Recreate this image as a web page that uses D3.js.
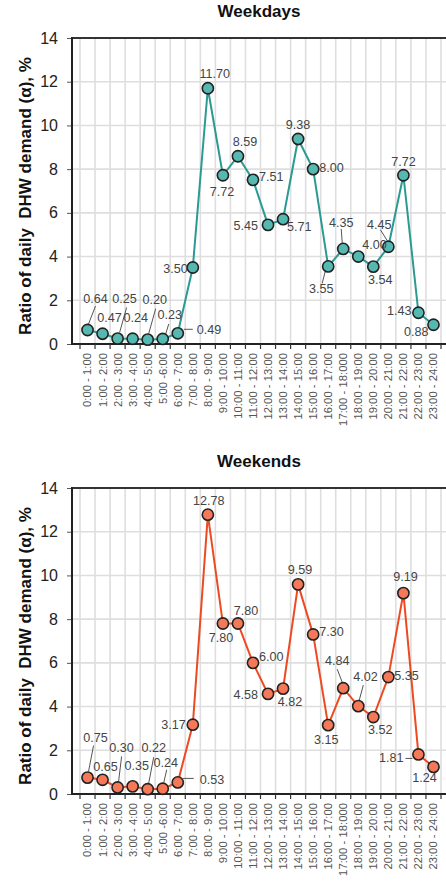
<!DOCTYPE html>
<html lang="en">
<head>
<meta charset="UTF-8">
<title>DHW demand profile</title>
<script src="https://d3js.org/d3.v7.min.js"></script>
<style>
  body { margin: 0; background: #fff; }
  svg { display: block; font-family: "Liberation Sans", Arial, sans-serif; }
  .title { font-size: 17px; font-weight: bold; fill: #111; }
  .ylab { font-size: 17px; font-weight: bold; fill: #111; }
  .grid line { stroke: #dedede; stroke-width: 1.6px; }
  .yaxis text { font-size: 16px; fill: #222; }
  .yaxis path { display: none; }
  .yaxis line { stroke: #555; }
  .xlab text { font-size: 11.3px; fill: #555; }
  .val { font-size: 12.6px; fill: #444; }
  .leader { stroke: #555; stroke-width: 1px; }
</style>
</head>
<body>
<svg width="446" height="885"></svg>
<script>
// data
const hours = ["0:00 - 1:00", "1:00 - 2:00", "2:00 - 3:00", "3:00 - 4:00", "4:00 - 5:00",
  "5:00 -6:00", "6:00 - 7:00", "7:00 - 8:00", "8:00 - 9:00", "9:00 - 10:00", "10:00 - 11:00",
  "11:00 - 12:00", "12:00 - 13:00", "13:00 - 14:00", "14:00 - 15:00", "15:00 - 16:00",
  "16:00 - 17:00", "17:00 - 18:000", "18:00 - 19:00", "19:00 - 20:00", "20:00 - 21:00",
  "21:00 - 22:00", "22:00 - 23:00", "23:00 - 24:00"];
const weekdays = [0.64, 0.47, 0.25, 0.24, 0.20, 0.23, 0.49, 3.50, 11.70, 7.72, 8.59, 7.51,
  5.45, 5.71, 9.38, 8.00, 3.55, 4.35, 4.00, 3.54, 4.45, 7.72, 1.43, 0.88];
const weekends = [0.75, 0.65, 0.30, 0.35, 0.22, 0.24, 0.53, 3.17, 12.78, 7.80, 7.80, 6.00,
  4.58, 4.82, 9.59, 7.30, 3.15, 4.84, 4.02, 3.52, 5.35, 9.19, 1.81, 1.24];
const yTicks = [0, 2, 4, 6, 8, 10, 12, 14];
const yTitle = "Ratio of daily  DHW demand (\u03b1), %";

// value label placement: [dx, dy, anchor] relative to the marker
const wdLabelPos = [[8,-27,"m"],[7,-12,"m"],[7,-36,"m"],[3,-17,"m"],[7,-36,"m"],[7,-20,"m"],
  [19,1,"s"],[-5,5,"e"],[7,-10,"m"],[-1,21,"m"],[7,-10,"m"],[6,1,"s"],[-10,5,"e"],[4,12,"s"],
  [0,-10,"m"],[6,3,"s"],[-7,27,"m"],[-2,-22,"m"],[4,-8,"s"],[7,17,"m"],[-9,-18,"m"],
  [0,-9,"m"],[-7,2,"e"],[-5,11,"e"]];
const weLabelPos = [[8,-36,"m"],[3,-9,"m"],[4,-35,"m"],[4,-16,"m"],[6,-37,"m"],[3,-22,"m"],
  [22,2,"s"],[-7,4,"e"],[1,-10,"m"],[-2,18,"m"],[8,-9,"m"],[6,-2,"s"],[-10,5,"e"],[7,17,"m"],
  [2,-10,"m"],[6,2,"s"],[-2,19,"m"],[-6,-23,"m"],[-5,-25,"s"],[7,17,"m"],[6,3,"s"],
  [2,-12,"m"],[-15,8,"e"],[-9,15,"m"]];
// leader lines [index, x1, y1, x2, y2] relative to the marker
const wdLeaders = [[0,1,-6,8,-24],[2,2,-6,9,-31],[4,1,-6,8,-31],[5,3,-5,6,-15],[6,6,-4,15,-4],
  [16,-3,5,-6,17],[17,-1,-6,-2,-20],[20,-1,-6,-8,-17]];
const weLeaders = [[0,1,-6,6,-32],[2,1,-6,4,-31],[4,1,-6,6,-32],[5,1,-6,4,-19],[6,5,-4,16,-4],
  [17,-1,-6,-6,-19],[18,1,-6,5,-21],[22,-6,4,-13,4]];

const svg = d3.select("svg");
const left = 72, right = 446, plotH = 306;
const anchors = { m: "middle", s: "start", e: "end" };

const x = d3.scaleBand().domain(hours).range([80, 441]);

function panel(top, title, values, lineColor, dotColor, labelPos, leaders) {
  const bottom = top + plotH;
  const y = d3.scaleLinear().domain([0, 14]).range([bottom, top]);
  const g = svg.append("g");

  g.append("text").attr("class", "title")
    .attr("x", (left + right) / 2).attr("y", top - 21)
    .attr("text-anchor", "middle").text(title);

  g.append("text").attr("class", "ylab")
    .attr("transform", `translate(31,${(top + bottom) / 2 + 5}) rotate(-90)`)
    .attr("text-anchor", "middle")
    .attr("xml:space", "preserve")
    .text(yTitle);

  // grid
  const grid = g.append("g").attr("class", "grid");
  grid.selectAll(".h").data(yTicks.slice(1, -1)).join("line")
    .attr("x1", left).attr("x2", right)
    .attr("y1", d => y(d)).attr("y2", d => y(d));
  const bounds = hours.map(h => x(h)).concat([x(hours[hours.length - 1]) + x.bandwidth()]);
  grid.selectAll(".v").data(bounds).join("line")
    .attr("x1", d => d).attr("x2", d => d)
    .attr("y1", top).attr("y2", bottom);

  // y axis
  g.append("g").attr("class", "yaxis")
    .attr("transform", `translate(${left},0)`)
    .call(d3.axisLeft(y).tickValues(yTicks).tickSize(5).tickPadding(9));

  // frame lines
  g.append("line").attr("x1", left).attr("x2", right).attr("y1", top).attr("y2", top)
    .attr("stroke", "#333").attr("stroke-width", 2);
  g.append("line").attr("x1", left).attr("x2", left).attr("y1", top - 1).attr("y2", bottom + 1)
    .attr("stroke", "#222").attr("stroke-width", 2);
  g.append("line").attr("x1", left).attr("x2", right).attr("y1", bottom).attr("y2", bottom)
    .attr("stroke", "#222").attr("stroke-width", 2);
  g.selectAll(".xt").data(bounds).join("line")
    .attr("x1", d => d).attr("x2", d => d)
    .attr("y1", bottom).attr("y2", bottom + 5)
    .attr("stroke", "#333").attr("stroke-width", 1.2);

  // x labels
  const xa = g.append("g").attr("class", "xlab")
    .attr("transform", `translate(0,${bottom})`)
    .call(d3.axisBottom(x).tickSize(0).tickPadding(0));
  xa.select(".domain").remove();
  xa.selectAll("text")
    .attr("transform", "translate(0,9) rotate(-90)")
    .attr("x", 0).attr("y", 0).attr("dy", "0.35em")
    .attr("text-anchor", "end");

  const cx = i => x(hours[i]) + x.bandwidth() / 2;

  // series
  g.append("path").datum(values)
    .attr("fill", "none").attr("stroke", lineColor).attr("stroke-width", 2)
    .attr("d", d3.line().x((d, i) => cx(i)).y(d => y(d)));

  g.selectAll(".leader").data(leaders).join("line").attr("class", "leader")
    .attr("x1", d => cx(d[0]) + d[1]).attr("y1", d => y(values[d[0]]) + d[2])
    .attr("x2", d => cx(d[0]) + d[3]).attr("y2", d => y(values[d[0]]) + d[4]);

  g.selectAll(".dot").data(values).join("circle")
    .attr("cx", (d, i) => cx(i)).attr("cy", d => y(d)).attr("r", 5.6)
    .attr("fill", dotColor).attr("stroke", "#222").attr("stroke-width", 1.6);

  g.selectAll(".val").data(values).join("text").attr("class", "val")
    .attr("x", (d, i) => cx(i) + labelPos[i][0])
    .attr("y", (d, i) => y(d) + labelPos[i][1])
    .attr("text-anchor", (d, i) => anchors[labelPos[i][2]])
    .text(d => d.toFixed(2));
}

panel(38, "Weekdays", weekdays, "#2a9a92", "#55b9b1", wdLabelPos, wdLeaders);
panel(488, "Weekends", weekends, "#ee4a22", "#f57959", weLabelPos, weLeaders);
</script>
</body>
</html>
